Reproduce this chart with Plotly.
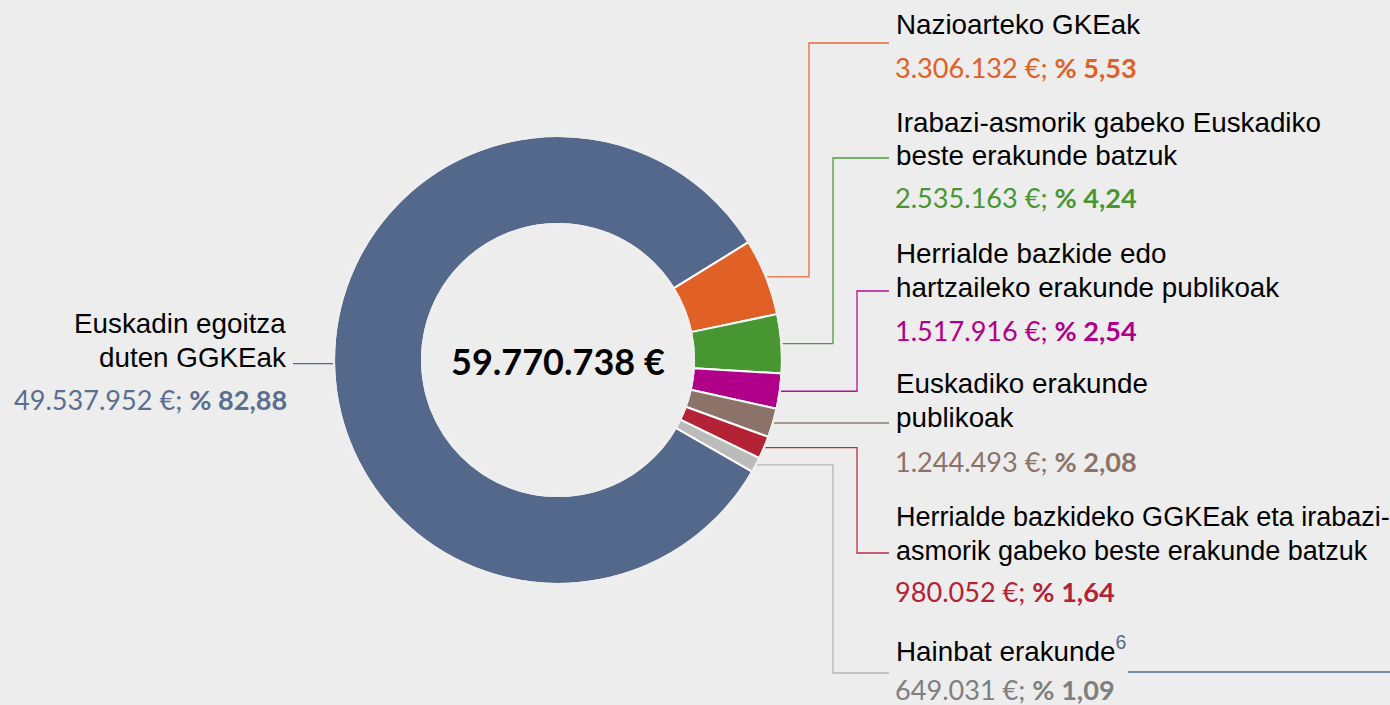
import math
import plotly.graph_objects as go

# ---------------- data ----------------
CATEGORIES = [
    "Euskadin egoitza duten GGKEak",
    "Nazioarteko GKEak",
    "Irabazi-asmorik gabeko Euskadiko beste erakunde batzuk",
    "Herrialde bazkide edo hartzaileko erakunde publikoak",
    "Euskadiko erakunde publikoak",
    "Herrialde bazkideko GGKEak eta irabazi-asmorik gabeko beste erakunde batzuk",
    "Hainbat erakunde",
]
VALUES = [49537952, 3306132, 2535163, 1517916, 1244493, 980052, 649031]
TOTAL = 59770738
LABEL_LINES = [
    ["Euskadin egoitza", "duten GGKEak"],
    ["Nazioarteko GKEak"],
    ["Irabazi-asmorik gabeko Euskadiko", "beste erakunde batzuk"],
    ["Herrialde bazkide edo", "hartzaileko erakunde publikoak"],
    ["Euskadiko erakunde", "publikoak"],
    ["Herrialde bazkideko GGKEak eta irabazi-", "asmorik gabeko beste erakunde batzuk"],
    ["Hainbat erakunde<sup><span style='color:#53688A'>6</span></sup>"],
]
SLICE_COLORS = ["#53688A", "#E06026", "#479632", "#B0008A", "#8B7369", "#B42236", "#BBBBBB"]
TEXT_COLORS = ["#5A6E92", "#E06026", "#479632", "#B0008A", "#8B7369", "#B42236", "#7F7F7F"]
LINE_COLORS = ["#53688A", "#E26A38", "#4F9A3C", "#B41096", "#917A6F", "#B93140", "#B5B5B5"]

# ---------------- layout ----------------
W, H = 1390, 705
CX, CY, R = 558, 360, 224
HOLE = 136 / 224
ROTATION = 119.9
BG = "#EDEDED"
NAME_FONT = "Liberation Sans, Arial, sans-serif"
NUM_FONT = "Lato, 'Open Sans', sans-serif"
NAME_SIZE = 27.8
NUM_SIZE = 27.1
TOTAL_SIZE = 36

# per label: side, line centers, value center, elbow x, target y, name size
LABEL_POS = [
    ("left", [323.5, 357.5], 399, None, None, NAME_SIZE),
    ("right", [24.5], 67, 809, 43, NAME_SIZE),
    ("right", [122, 155.5], 197, 833, 158, NAME_SIZE),
    ("right", [253.5, 287.5], 330, 857, 291, NAME_SIZE),
    ("right", [383.5, 417.5], 462, None, None, NAME_SIZE),
    ("right", [516.5, 550.5], 591, 857, 553, 27.0),
    ("right", [648.5], 689, 833, 673, NAME_SIZE),
]
RIGHT_LINE_END = 889
RIGHT_TEXT_X = 894
LEFT_LINE_END = 293
LEFT_TEXT_X = 288


def px(x):
    return x / W


def py(y):
    return 1 - y / H


def fmt_int(v):
    return f"{v:,}".replace(",", ".")


def fmt_pct(p):
    return f"{p:.2f}".replace(".", ",")


total_sum = sum(VALUES)
fig = go.Figure()
fig.add_trace(go.Pie(
    labels=CATEGORIES,
    values=VALUES,
    sort=False,
    direction="clockwise",
    rotation=ROTATION,
    hole=HOLE,
    marker=dict(colors=SLICE_COLORS, line=dict(color="#FFFFFF", width=2)),
    textinfo="none",
    hoverinfo="label+value+percent",
    showlegend=False,
    domain=dict(x=[px(CX - R), px(CX + R)], y=[py(CY + R), py(CY - R)]),
))

shapes = []
annotations = []
cum = 0
for i, v in enumerate(VALUES):
    frac = v / total_sum
    mid = math.radians(ROTATION + (cum + frac / 2) * 360)
    cum += frac
    sx = CX + R * math.sin(mid)
    sy = CY - R * math.cos(mid)
    side, lines, vy, elbow, target, nsize = LABEL_POS[i]
    if side == "left":
        pts = [(sx, sy), (LEFT_LINE_END, sy)]
        tx, anchor = LEFT_TEXT_X, "right"
    else:
        if elbow is None:
            pts = [(sx, sy), (RIGHT_LINE_END, sy)]
        else:
            pts = [(sx, sy), (elbow, sy), (elbow, target), (RIGHT_LINE_END, target)]
        tx, anchor = RIGHT_TEXT_X, "left"
    path = "M " + " L ".join(f"{px(a):.6f},{py(b):.6f}" for a, b in pts)
    shapes.append(dict(type="path", path=path, xref="paper", yref="paper",
                       line=dict(color=LINE_COLORS[i], width=1.3), layer="below"))
    for txt, ly in zip(LABEL_LINES[i], lines):
        annotations.append(dict(
            x=px(tx), y=py(ly), xref="paper", yref="paper", text=txt,
            showarrow=False, xanchor=anchor, yanchor="middle",
            font=dict(family=NAME_FONT, size=nsize, color="#000000"),
        ))
    pct = v / TOTAL * 100
    annotations.append(dict(
        x=px(tx), y=py(vy), xref="paper", yref="paper",
        text=f"{fmt_int(v)} €; <b>% {fmt_pct(pct)}</b>",
        showarrow=False, xanchor=anchor, yanchor="middle", borderpad=0,
        font=dict(family=NUM_FONT, size=NUM_SIZE, color=TEXT_COLORS[i]),
    ))

# hide the white separator stroke on the outer and inner rims
for rr in (R, R * HOLE):
    shapes.append(dict(type="circle", xref="paper", yref="paper",
                       x0=px(CX - rr), x1=px(CX + rr), y0=py(CY + rr), y1=py(CY - rr),
                       line=dict(color=BG, width=2.2), layer="above"))

# footnote rule next to the last label
shapes.append(dict(type="line", xref="paper", yref="paper",
                   x0=px(1128), x1=px(1390), y0=py(672), y1=py(672),
                   line=dict(color="#53688A", width=1.3)))

# total in the centre
annotations.append(dict(
    x=px(CX), y=py(CY + 0.5), xref="paper", yref="paper",
    text=f"<b>{fmt_int(TOTAL)} €</b>", showarrow=False,
    xanchor="center", yanchor="middle",
    font=dict(family=NUM_FONT, size=TOTAL_SIZE, color="#000000"),
))

fig.update_layout(
    width=W, height=H,
    margin=dict(l=0, r=0, t=0, b=0),
    paper_bgcolor=BG, plot_bgcolor=BG,
    shapes=shapes, annotations=annotations,
    showlegend=False,
)
fig.write_html(
    "out.html",
    config={"displayModeBar": False},
    post_script="document.body.style.margin='0';document.body.style.background='#EDEDED';",
)
